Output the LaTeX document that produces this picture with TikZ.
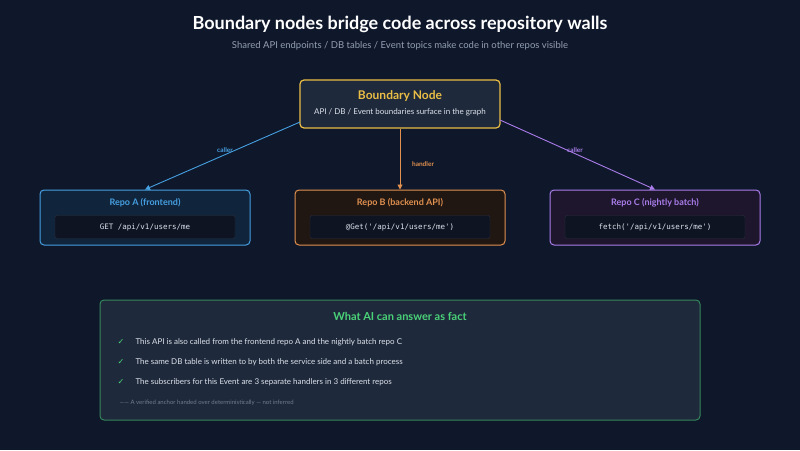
\documentclass[tikz,border=0pt]{standalone}
\usepackage{fontspec}
\setmainfont{Lato}
\setmonofont{DejaVu Sans Mono}
\newfontfamily\djv{DejaVu Sans}
\usetikzlibrary{arrows.meta}
\definecolor{bg}{RGB}{15,23,42}
\definecolor{panel}{RGB}{30,41,59}
\definecolor{yel}{RGB}{234,190,70}
\definecolor{blu}{RGB}{70,160,225}
\definecolor{org}{RGB}{225,145,80}
\definecolor{pur}{RGB}{170,125,235}
\definecolor{grn}{RGB}{74,210,120}
\definecolor{txt}{RGB}{220,226,235}
\definecolor{mut}{RGB}{148,160,180}
\definecolor{codebg}{RGB}{14,20,34}
\tikzset{
  repo/.style={draw=#1, line width=1pt, rounded corners=4pt, minimum width=210pt, minimum height=55pt},
  codebox/.style={draw=white!12!codebg, fill=codebg, rounded corners=2pt, minimum width=180pt, minimum height=23pt, font=\ttfamily\fontsize{7.5}{9}\selectfont, text=txt},
  rtitle/.style={font=\bfseries\fontsize{9}{11}\selectfont, text=#1},
  conn/.style={draw=#1, line width=0.9pt, -{Triangle[length=5pt,width=5pt]}},
  elabel/.style={font=\bfseries\fontsize{6.5}{8}\selectfont, text=#1},
  item/.style={font=\fontsize{8}{10}\selectfont, text=txt, anchor=west},
  chk/.style={font=\djv\fontsize{8}{10}\selectfont, text=grn},
}
\begin{document}
\begin{tikzpicture}[x=1pt,y=-1pt]
\fill[bg] (0,0) rectangle (800,450);
\useasboundingbox (0,0) rectangle (800,450);
\node[font=\bfseries\fontsize{18}{22}\selectfont, text=white] (title) at (400,24) {Boundary nodes bridge code across repository walls};
\node[font=\fontsize{9.5}{12}\selectfont, text=mut] (sub) at (400,46) {Shared API endpoints / DB tables / Event topics make code in other repos visible};
\node[draw=yel, fill=panel, line width=1.2pt, rounded corners=4pt, minimum width=200pt, minimum height=48pt] (bn) at (400,104) {};
\node[font=\bfseries\fontsize{12}{14}\selectfont, text=yel] (bnt) at (400,96) {Boundary Node};
\node[font=\fontsize{8}{10}\selectfont, text=txt] (bns) at (400,112) {API / DB / Event boundaries surface in the graph};
% repos
\node[repo=blu, fill={rgb,255:red,16;green,36;blue,60}] (ra) at (145,217.5) {};
\node[rtitle=blu] (rat) at (145,203) {Repo A (frontend)};
\node[codebox] (rac) at (145,227) {GET /api/v1/users/me};
\node[repo=org, fill={rgb,255:red,32;green,22;blue,18}] (rb) at (400,217.5) {};
\node[rtitle=org] (rbt) at (400,203) {Repo B (backend API)};
\node[codebox] (rbc) at (400,227) {@Get('/api/v1/users/me')};
\node[repo=pur, fill={rgb,255:red,30;green,22;blue,44}] (rc) at (655,217.5) {};
\node[rtitle=pur] (rct) at (655,203) {Repo C (nightly batch)};
\node[codebox] (rcc) at (655,227) {fetch('/api/v1/users/me')};
% connectors
\coordinate (bl) at (300,122);
\coordinate (br) at (500,120);
\draw[conn=blu] (bl) -- (ra.north);
\draw[conn=org] (bn.south) -- (rb.north);
\draw[conn=pur] (br) -- (rc.north);
\node[elabel=blu] (la) at (225,150) {caller};
\node[elabel=org] (lb) at (423,164) {handler};
\node[elabel=pur] (lc) at (575,150) {caller};
% bottom
\node[draw=grn!55!panel, fill=panel, line width=1pt, rounded corners=4pt, minimum width=600pt, minimum height=120pt] (fact) at (400,360) {};
\node[font=\bfseries\fontsize{11}{13}\selectfont, text=grn] (ft) at (400,316) {What AI can answer as fact};
\node[chk] (c1) at (121,342) {✓};
\node[item] (i1) at (132,342) {This API is also called from the frontend repo A and the nightly batch repo C};
\node[chk] (c2) at (121,362) {✓};
\node[item] (i2) at (132,362) {The same DB table is written to by both the service side and a batch process};
\node[chk] (c3) at (121,382) {✓};
\node[item] (i3) at (132,382) {The subscribers for this Event are 3 separate handlers in 3 different repos};
\node[font=\fontsize{6}{7}\selectfont, text=mut!70!panel, anchor=west] (note) at (116,403) {—— A verified anchor handed over deterministically — not inferred};
\end{tikzpicture}
\end{document}
